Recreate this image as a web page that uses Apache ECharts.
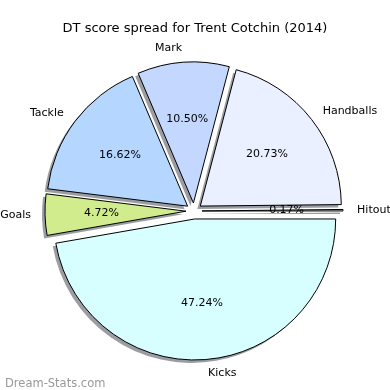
<!DOCTYPE html>
<html><head><meta charset="utf-8">
<script src="https://cdn.jsdelivr.net/npm/echarts@6/dist/echarts.min.js"></script>
<style>html,body{margin:0;padding:0;background:#fff}#c{width:390px;height:390px}</style>
</head><body><div id="c"></div>
<script>
const categories = ['Hitout', 'Handballs', 'Mark', 'Tackle', 'Goals', 'Kicks'];
const percents = [0.17, 20.73, 10.50, 16.62, 4.72, 47.24];
const sliceColors = ['#d8d8d8', '#eaf0ff', '#c4d8ff', '#b4d6ff', '#d0ec8c', '#d8ffff'];

const C = [194, 211], R = 141, OFF = 8;
const font = 'DejaVu Sans';
const common = {type: 'pie', radius: R, startAngle: 0, clockwise: false,
  selectedMode: 'multiple', selectedOffset: OFF, avoidLabelOverlap: false,
  emphasis: {disabled: true}};
const chart = echarts.init(document.getElementById('c'), null, {renderer: 'canvas'});
chart.setOption({
  animation: false,
  backgroundColor: '#fff',
  title: [
    {text: 'DT score spread for Trent Cotchin (2014)', left: 'center', top: 17,
     textStyle: {fontFamily: font, fontSize: 13, fontWeight: 'normal', color: '#000'}},
    {text: 'Dream-Stats.com', left: 0, top: 373,
     textStyle: {fontFamily: font, fontSize: 11.5, fontWeight: 'normal', color: '#999999'}}
  ],
  series: [
    Object.assign({}, common, {
      center: [C[0] - 3, C[1] + 3], silent: true, z: 1,
      itemStyle: {color: 'rgba(55,60,70,0.5)', borderWidth: 0},
      label: {show: false}, labelLine: {show: false},
      data: categories.map((n, i) => ({name: n, value: percents[i], selected: true}))
    }),
    Object.assign({}, common, {
      center: C, z: 2,
      itemStyle: {borderColor: '#000', borderWidth: 1},
      label: {show: true, position: 'outside', formatter: '{b}', fontFamily: font, fontSize: 11,
        color: '#000', distanceToLabelLine: 0},
      labelLine: {show: false, length: R * 0.1, length2: 0},
      data: categories.map((n, i) => ({name: n, value: percents[i], selected: true,
        itemStyle: {color: sliceColors[i]}}))
    }),
    Object.assign({}, common, {
      center: C, radius: R * 1.2 - 6, silent: true, z: 3,
      itemStyle: {color: 'rgba(0,0,0,0)', borderWidth: 0},
      label: {show: true, position: 'inside', fontFamily: font, fontSize: 11, color: '#000',
        formatter: p => p.value.toFixed(2) + '%'},
      labelLine: {show: false},
      data: categories.map((n, i) => ({name: n, value: percents[i], selected: true}))
    })
  ]
});
</script></body></html>
